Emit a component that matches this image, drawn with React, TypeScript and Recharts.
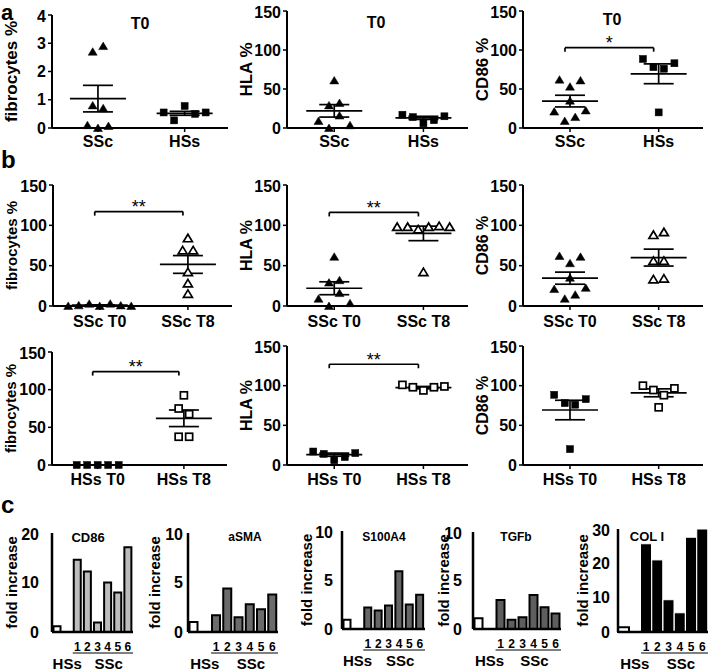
import React from 'react';
import { ScatterChart, Scatter, XAxis, YAxis, ReferenceLine, ReferenceDot, BarChart, Bar, Cell } from 'recharts';

const FONT = '"Liberation Sans", Arial, Helvetica, sans-serif';

// ---- a: T0, SSc vs HSs ----
const aCats = ['SSc', 'HSs'];
const fibroSScT0 = [0.1, 0.8, 2.7, 0.0, 2.9, 0.7, 0.07];
const fibroHSsT0 = [0.55, 0.27, 0.78, 0.5, 0.55];
const fibroT0Mean = [1.04, 0.52];
const fibroT0Sem = [0.47, 0.07];
const hlaSScT0 = [9, 29, 61, 32, 0, 16, 3.5];
const hlaHSsT0 = [17, 14, 6, 10, 15];
const hlaT0Mean = [22, 13];
const hlaT0Sem = [8, 2];
const cd86SScT0 = [21, 62, 9, 53, 35, 14, 61, 22.5];
const cd86HSsT0 = [88.5, 78, 20, 76, 83];
const cd86T0Mean = [34.5, 69.5];
const cd86T0Sem = [7.5, 12.7];

// ---- b: T0 vs T8 ----
const sscCats = ['SSc T0', 'SSc T8'];
const hssCats = ['HSs T0', 'HSs T8'];
const fibroSScT8 = [15, 69, 84, 42, 28, 69];
const fibroSScMean = [1.0, 51.5];
const fibroSScSem = [0.4, 11];
const hlaSScT8 = [98, 98, 95, 42, 98, 99, 98];
const hlaSScMean = [22, 90];
const hlaSScSem = [8, 9];
const cd86SScT8 = [88, 56, 33, 91.5, 56, 34];
const cd86SScMean = [34.5, 60];
const cd86SScSem = [7.5, 10.5];
const fibroHSsT0b = [0, 0, 0, 0, 0];
const fibroHSsT8 = [75, 37.5, 92.5, 67.5, 37.5];
const fibroHSsMean = [0, 62];
const fibroHSsSem = [0, 11];
const hlaHSsT8 = [101, 98, 94, 98, 99];
const hlaHSsMean = [13, 97.5];
const hlaHSsSem = [2, 1.5];
const cd86HSsT8 = [100, 94.5, 72.7, 88, 96.6];
const cd86HSsMean = [69.3, 91];
const cd86HSsSem = [12.3, 5];

// significance brackets (value height)
const bracketA3 = 103;
const bracketFibroSSc = 117;
const bracketHlaSSc = 116;
const bracketFibroHSs = 124;
const bracketHlaHSs = 127;

// ---- c: fold increase ----
const barCats = ['HSs', '', '1', '2', '3', '4', '5', '6'];
const cd86Fold = [1.15, null, 14.6, 12.2, 1.9, 10.0, 8.0, 17.1];
const asmaFold = [1.0, null, 1.7, 4.4, 1.5, 2.8, 2.3, 3.8];
const s100a4Fold = [0.95, null, 2.2, 1.9, 2.4, 5.9, 2.5, 3.5];
const tgfbFold = [1.1, null, 3.0, 0.95, 1.2, 3.5, 2.25, 1.6];
const col1Fold = [1.4, null, 25.7, 21.0, 9.4, 5.6, 27.6, 30];

type Marker = 'tri' | 'triOpen' | 'sq' | 'sqOpen';

const X0 = 0.47;
const X1 = 2.5;
const YW = 52;
const MT = 8;
const XH = 30;

function swarm(values: number[], center: number, bin: number, step: number) {
  const idx = values.map((_, i) => i).sort((a, b) => values[a] - values[b]);
  const chains: number[][] = [];
  idx.forEach((i, k) => {
    if (k > 0 && values[i] - values[idx[k - 1]] < bin) chains[chains.length - 1].push(i);
    else chains.push([i]);
  });
  const xs: number[] = new Array(values.length);
  chains.forEach((c) => {
    const ord = [...c].sort((a, b) => a - b);
    ord.forEach((i, j) => {
      xs[i] = center + (j - (ord.length - 1) / 2) * step;
    });
  });
  return values.map((v, i) => ({ x: xs[i], y: v }));
}

const marker = (kind: Marker) => (props: any) => {
  const { cx, cy } = props;
  if (kind === 'tri' || kind === 'triOpen') {
    const open = kind === 'triOpen';
    const h = 4;
    return (
      <polygon
        points={`${cx},${cy - h} ${cx + h + 0.5},${cy + h - 0.5} ${cx - h - 0.5},${cy + h - 0.5}`}
        fill={open ? '#fff' : '#000'}
        stroke="#000"
        strokeWidth={open ? 1.7 : 0.5}
      />
    );
  }
  const open = kind === 'sqOpen';
  return (
    <rect
      x={cx - 3.5}
      y={cy - 3.5}
      width={7}
      height={7}
      fill={open ? '#fff' : '#000'}
      stroke="#000"
      strokeWidth={open ? 1.7 : 0.5}
    />
  );
};

interface ScatterCfg {
  left: number;
  right: number;
  top: number;
  bottom: number;
  yMax: number;
  yTicks: number[];
  yLabel: string;
  labelSize: number;
  tickMargin: number;
  cats: string[];
  groups: number[][];
  markers: Marker[];
  mean: number[];
  sem: number[];
  bracket?: number;
  stars?: string;
}

function ScatterPanel({ c }: { c: ScatterCfg }) {
  const plotW = c.right - c.left;
  const plotH = c.bottom - c.top;
  const pxX = plotW / (X1 - X0);
  const pxY = plotH / c.yMax;
  const dx = (px: number) => px / pxX;
  const dy = (px: number) => px / pxY;
  const width = YW + plotW + 3;
  const height = MT + plotH + XH;
  const segs: { x: number; y: number }[][] = [];
  c.mean.forEach((m, i) => {
    const cx = i + 1;
    const s = c.sem[i];
    segs.push([{ x: cx - dx(28), y: m }, { x: cx + dx(28), y: m }]);
    if (s > 0) {
      segs.push([{ x: cx, y: m - s }, { x: cx, y: m + s }]);
      segs.push([{ x: cx - dx(15), y: m + s }, { x: cx + dx(15), y: m + s }]);
      segs.push([{ x: cx - dx(15), y: m - s }, { x: cx + dx(15), y: m - s }]);
    }
  });
  if (c.bracket !== undefined) {
    const b = c.bracket;
    const bx0 = 1 - dx(5);
    const bx1 = 2 - dx(5);
    segs.push([{ x: bx0, y: b }, { x: bx1, y: b }]);
    segs.push([{ x: bx0, y: b }, { x: bx0, y: b - dy(4) }]);
    segs.push([{ x: bx1, y: b }, { x: bx1, y: b - dy(4) }]);
  }
  const bin = c.yMax * 0.06;
  return (
    <div style={{ position: 'absolute', left: c.left - YW, top: c.top - MT }}>
      <ScatterChart width={width} height={height} margin={{ top: MT, right: 3, bottom: 0, left: 0 }}>
        <XAxis
          type="number"
          dataKey="x"
          domain={[X0, X1]}
          ticks={[1, 2]}
          tickFormatter={(v: number) => (v === 1 ? c.cats[0] : c.cats[1])}
          height={XH}
          tickSize={4}
          tickMargin={c.tickMargin}
          axisLine={{ stroke: '#000', strokeWidth: 2 }}
          tickLine={{ stroke: '#000', strokeWidth: 1.5 }}
          tick={{ fill: '#000', fontSize: 16, fontWeight: 'bold' }}
        />
        <YAxis
          type="number"
          dataKey="y"
          domain={[0, c.yMax]}
          ticks={c.yTicks}
          width={YW}
          tickSize={4}
          tickMargin={2}
          axisLine={{ stroke: '#000', strokeWidth: 2 }}
          tickLine={{ stroke: '#000', strokeWidth: 1.5 }}
          tick={{ fill: '#000', fontSize: 16, fontWeight: 'bold' }}
          label={{
            value: c.yLabel,
            angle: -90,
            position: 'insideLeft',
            offset: YW - 41,
            fontSize: c.labelSize,
            style: { textAnchor: 'middle', fontSize: c.labelSize, fontWeight: 'bold', fill: '#000' },
          }}
        />
        {c.groups.map((g, i) => (
          <Scatter
            key={i}
            data={swarm(g, i + 1, bin, dx(10.5))}
            shape={marker(c.markers[i])}
            isAnimationActive={false}
          />
        ))}
        {segs.map((s, i) => (
          <ReferenceLine key={i} segment={s} stroke="#000" strokeWidth={1.7} ifOverflow="visible" />
        ))}
        {c.bracket !== undefined && (
          <ReferenceDot
            x={1.5 - dx(5)}
            y={c.bracket + dy(5)}
            r={0}
            ifOverflow="visible"
            label={{ value: c.stars, position: 'center', fontSize: 18, fill: '#000' }}
          />
        )}
      </ScatterChart>
    </div>
  );
}

interface BarCfg {
  left: number;
  right: number;
  top: number;
  bottom: number;
  yMax: number;
  yTicks: number[];
  values: (number | null)[];
  fill: string;
  dark?: boolean;
  tickGap: number;
  labelGap: number;
}

const BYW = 48;
const BXH = 40;

function BarPanel({ c }: { c: BarCfg }) {
  const plotW = c.right - c.left;
  const plotH = c.bottom - c.top;
  const band = plotW / barCats.length;
  const data = barCats.map((name, i) => ({ name, v: c.values[i] }));
  const tick = (props: any) => {
    const { x, y, payload } = props;
    const v = String(payload.value);
    if (v === 'HSs') {
      return (
        <text x={x + band} y={y + 37} textAnchor="middle" fontSize={15} fontWeight="bold" fill="#000">
          HSs
        </text>
      );
    }
    if (v === '') return <g />;
    return (
      <g>
        <text x={x} y={y + 19} textAnchor="middle" fontSize={12} fontWeight="bold" fill="#000">
          {v}
        </text>
        {v === '1' && (
          <line x1={x - band * 0.45} x2={x + band * 5.5} y1={y + 21} y2={y + 21} stroke="#000" strokeWidth={1} />
        )}
        {v === '4' && (
          <text x={x + 1} y={y + 37} textAnchor="middle" fontSize={15} fontWeight="bold" fill="#000">
            SSc
          </text>
        )}
      </g>
    );
  };
  return (
    <div style={{ position: 'absolute', left: c.left - BYW, top: c.top - MT }}>
      <BarChart
        width={BYW + plotW + 1}
        height={MT + plotH + BXH}
        data={data}
        margin={{ top: MT, right: 1, bottom: 0, left: 0 }}
        barCategoryGap={c.dark ? 0 : 1.5}
      >
        <XAxis
          dataKey="name"
          interval={0}
          height={BXH}
          tickLine={false}
          tickSize={0}
          tickMargin={0}
          axisLine={{ stroke: '#000', strokeWidth: 2.5 }}
          tick={tick}
        />
        <YAxis
          domain={[0, c.yMax]}
          ticks={c.yTicks}
          width={BYW}
          tickLine={false}
          tickSize={c.tickGap - 2}
          tickMargin={2}
          axisLine={{ stroke: '#000', strokeWidth: 2.5 }}
          tick={{ fill: '#000', fontSize: 16, fontWeight: 'bold' }}
          label={{
            value: 'fold increase',
            angle: -90,
            position: 'insideLeft',
            offset: BYW - c.labelGap,
            fontSize: 15,
            style: { textAnchor: 'middle', fontSize: 15, fontWeight: 'bold', fill: '#000' },
          }}
        />
        <Bar dataKey="v" isAnimationActive={false}>
          {data.map((d, i) => (
            <Cell
              key={i}
              fill={i === 0 ? '#fff' : c.fill}
              stroke={i === 0 || !c.dark ? '#000' : '#fff'}
              strokeWidth={i === 0 || !c.dark ? 2 : 1}
            />
          ))}
        </Bar>
      </BarChart>
    </div>
  );
}

const t150 = [0, 50, 100, 150];

const scatterPanels: ScatterCfg[] = [
  {
    left: 52, right: 228, top: 15, bottom: 128, yMax: 4, yTicks: [0, 1, 2, 3, 4], yLabel: 'fibrocytes %',
    labelSize: 17, tickMargin: 3.5, cats: aCats, groups: [fibroSScT0, fibroHSsT0], markers: ['tri', 'sq'],
    mean: fibroT0Mean, sem: fibroT0Sem,
  },
  {
    left: 287, right: 468, top: 11, bottom: 128, yMax: 150, yTicks: t150, yLabel: 'HLA %',
    labelSize: 17, tickMargin: 3.5, cats: aCats, groups: [hlaSScT0, hlaHSsT0], markers: ['tri', 'sq'],
    mean: hlaT0Mean, sem: hlaT0Sem,
  },
  {
    left: 523, right: 703, top: 11, bottom: 128, yMax: 150, yTicks: t150, yLabel: 'CD86 %',
    labelSize: 17, tickMargin: 3.5, cats: aCats, groups: [cd86SScT0, cd86HSsT0], markers: ['tri', 'sq'],
    mean: cd86T0Mean, sem: cd86T0Sem, bracket: bracketA3, stars: '*',
  },
  {
    left: 53, right: 232, top: 185, bottom: 306, yMax: 150, yTicks: t150, yLabel: 'fibrocytes %',
    labelSize: 15, tickMargin: 5.5, cats: sscCats, groups: [fibroSScT0, fibroSScT8], markers: ['tri', 'triOpen'],
    mean: fibroSScMean, sem: fibroSScSem, bracket: bracketFibroSSc, stars: '**',
  },
  {
    left: 287, right: 468, top: 185, bottom: 306, yMax: 150, yTicks: t150, yLabel: 'HLA %',
    labelSize: 16, tickMargin: 5.5, cats: sscCats, groups: [hlaSScT0, hlaSScT8], markers: ['tri', 'triOpen'],
    mean: hlaSScMean, sem: hlaSScSem, bracket: bracketHlaSSc, stars: '**',
  },
  {
    left: 523, right: 703, top: 185, bottom: 306, yMax: 150, yTicks: t150, yLabel: 'CD86 %',
    labelSize: 16, tickMargin: 5.5, cats: sscCats, groups: [cd86SScT0, cd86SScT8], markers: ['tri', 'triOpen'],
    mean: cd86SScMean, sem: cd86SScSem,
  },
  {
    left: 52, right: 227, top: 352, bottom: 465, yMax: 150, yTicks: t150, yLabel: 'fibrocytes %',
    labelSize: 15, tickMargin: 4.5, cats: hssCats, groups: [fibroHSsT0b, fibroHSsT8], markers: ['sq', 'sqOpen'],
    mean: fibroHSsMean, sem: fibroHSsSem, bracket: bracketFibroHSs, stars: '**',
  },
  {
    left: 287, right: 468, top: 346, bottom: 465, yMax: 150, yTicks: t150, yLabel: 'HLA %',
    labelSize: 16, tickMargin: 4.5, cats: hssCats, groups: [hlaHSsT0, hlaHSsT8], markers: ['sq', 'sqOpen'],
    mean: hlaHSsMean, sem: hlaHSsSem, bracket: bracketHlaHSs, stars: '**',
  },
  {
    left: 523, right: 703, top: 346, bottom: 465, yMax: 150, yTicks: t150, yLabel: 'CD86 %',
    labelSize: 16, tickMargin: 4.5, cats: hssCats, groups: [cd86HSsT0, cd86HSsT8], markers: ['sq', 'sqOpen'],
    mean: cd86HSsMean, sem: cd86HSsSem,
  },
];

const barPanels: BarCfg[] = [
  { left: 52, right: 133, top: 533, bottom: 632, yMax: 20, yTicks: [0, 10, 20], values: cd86Fold, fill: '#bdbdbd', tickGap: 13, labelGap: 40 },
  { left: 188, right: 278, top: 533, bottom: 632, yMax: 10, yTicks: [0, 5, 10], values: asmaFold, fill: '#6b6b6b', tickGap: 5, labelGap: 33 },
  { left: 342, right: 425, top: 531, bottom: 629, yMax: 10, yTicks: [0, 5, 10], values: s100a4Fold, fill: '#666666', tickGap: 9, labelGap: 35 },
  { left: 473, right: 561, top: 532, bottom: 629, yMax: 10, yTicks: [0, 5, 10], values: tgfbFold, fill: '#5e5e5e', tickGap: 11, labelGap: 29 },
  { left: 618, right: 708, top: 529, bottom: 632, yMax: 30, yTicks: [0, 10, 20, 30], values: col1Fold, fill: '#000', dark: true, tickGap: 8, labelGap: 35 },
];

export default function App() {
  return (
    <div
      style={{
        position: 'absolute',
        left: 0,
        top: 0,
        width: 709,
        height: 672,
        overflow: 'hidden',
        background: '#fff',
        fontFamily: FONT,
      }}
    >
      {scatterPanels.map((c, i) => (
        <ScatterPanel key={i} c={c} />
      ))}
      {barPanels.map((c, i) => (
        <BarPanel key={i} c={c} />
      ))}
      <svg
        width={709}
        height={672}
        style={{ position: 'absolute', left: 0, top: 0, pointerEvents: 'none', fontFamily: FONT }}
      >
        <g fontWeight="bold" fill="#000">
          <text x={1} y={20} fontSize={22}>a</text>
          <text x={1} y={168} fontSize={24}>b</text>
          <text x={1} y={513} fontSize={24}>c</text>
          <text x={140} y={29} fontSize={16} textAnchor="middle">T0</text>
          <text x={376} y={28} fontSize={16} textAnchor="middle">T0</text>
          <text x={612} y={25} fontSize={16} textAnchor="middle">T0</text>
          <text x={88} y={542} fontSize={13} textAnchor="middle">CD86</text>
          <text x={245} y={541} fontSize={12} textAnchor="middle">aSMA</text>
          <text x={384} y={541} fontSize={12} textAnchor="middle">S100A4</text>
          <text x={516} y={541} fontSize={12} textAnchor="middle">TGFb</text>
          <text x={647} y={541} fontSize={13} textAnchor="middle">COL I</text>
        </g>
      </svg>
    </div>
  );
}
